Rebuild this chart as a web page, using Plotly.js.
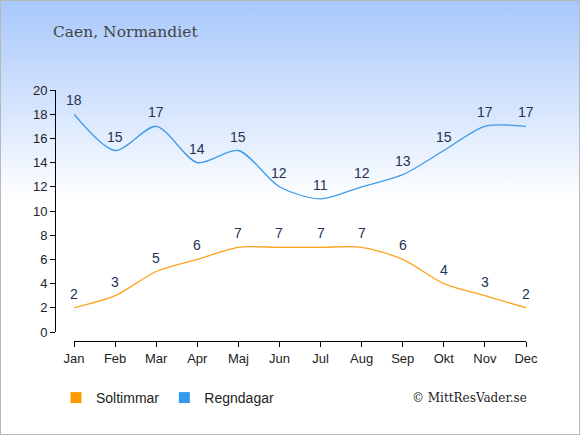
<!DOCTYPE html>
<html><head><meta charset="utf-8">
<script src="https://cdn.plot.ly/plotly-3.0.1.min.js"></script>
<style>
html,body{margin:0;padding:0;}
#wrap{width:580px;height:435px;box-sizing:border-box;border:1px solid #b8b8b8;
background:linear-gradient(to bottom,#a8c8fc 0%,#d6e5fd 25%,#ffffff 46%,#ffffff 100%);}
#chart{width:578px;height:433px;}
</style></head>
<body><div id="wrap"><div id="chart"></div></div>
<script>
var months = ["Jan","Feb","Mar","Apr","Maj","Jun","Jul","Aug","Sep","Okt","Nov","Dec"];
var soltimmar = [2,3,5,6,7,7,7,7,6,4,3,2];
var regndagar = [18,15,17,14,15,12,11,12,13,15,17,17];
var yTicks = [0,2,4,6,8,10,12,14,16,18,20];
var orange = "#ffa31a", blue = "#3d9be9";

var W=578, H=433;
var traces = [
 {x:months, y:soltimmar, mode:"lines", line:{color:orange,width:1.3,shape:"spline",smoothing:0.8}, showlegend:false, hoverinfo:"skip"},
 {x:months, y:regndagar, mode:"lines", line:{color:blue,width:1.3,shape:"spline",smoothing:0.8}, showlegend:false, hoverinfo:"skip"},
 {x:[null], y:[null], mode:"markers", name:"Soltimmar", marker:{symbol:"square",size:11,color:"#ff9900"}},
 {x:[null], y:[null], mode:"markers", name:"Regndagar", marker:{symbol:"square",size:11,color:"#3399ee"}}
];
var ann = [];
function addLabels(vals){
  for (var i=0;i<vals.length;i++){
    ann.push({x:months[i], y:vals[i], text:String(vals[i]), showarrow:false, yshift:14,
      font:{family:"Liberation Sans, Arial, sans-serif", size:14, color:"#223355"}});
  }
}
addLabels(soltimmar); addLabels(regndagar);
ann.push({xref:"paper",yref:"paper",x:50/W,y:1-31/H,xanchor:"left",yanchor:"middle",showarrow:false,
  text:"Caen, Normandiet",font:{family:"DejaVu Serif, serif",size:15.5,color:"#444444"}});
ann.push({xref:"paper",yref:"paper",x:528/W,y:1-397/H,xanchor:"right",yanchor:"middle",showarrow:false,
  text:"© MittResVader.se",font:{family:"DejaVu Serif, serif",size:12,color:"#222222"}});

var layout = {
  width:W, height:H, margin:{l:0,r:0,t:0,b:0},
  paper_bgcolor:"rgba(0,0,0,0)", plot_bgcolor:"rgba(0,0,0,0)",
  showlegend:true,
  legend:{orientation:"h", x:55/W, y:1-397/H, xanchor:"left", yanchor:"middle",
    font:{family:"Liberation Sans, Arial, sans-serif", size:14, color:"#222222"},
    bgcolor:"rgba(0,0,0,0)", itemwidth:30, tracegroupgap:0},
  xaxis:{type:"category", categoryorder:"array", categoryarray:months,
    domain:[73/W, 525/W], range:[0,11], anchor:"free", position:1-340/H,
    showline:true, linecolor:"#000", linewidth:1, ticks:"outside", ticklen:5, tickcolor:"#000",
    showgrid:false, zeroline:false, fixedrange:true,
    tickfont:{family:"Liberation Sans, Arial, sans-serif", size:13, color:"#222222"}},
  yaxis:{range:[0,20], domain:[1-331/H, 1-89/H], anchor:"free", position:54/W,
    tickvals:yTicks, showline:true, linecolor:"#000", linewidth:1, ticks:"outside", ticklen:5, tickcolor:"#000",
    showgrid:false, zeroline:false, fixedrange:true,
    tickfont:{family:"Liberation Sans, Arial, sans-serif", size:13, color:"#222222"}},
  annotations:ann
};
Plotly.newPlot("chart", traces, layout, {displayModeBar:false, staticPlot:true});
</script></body></html>
